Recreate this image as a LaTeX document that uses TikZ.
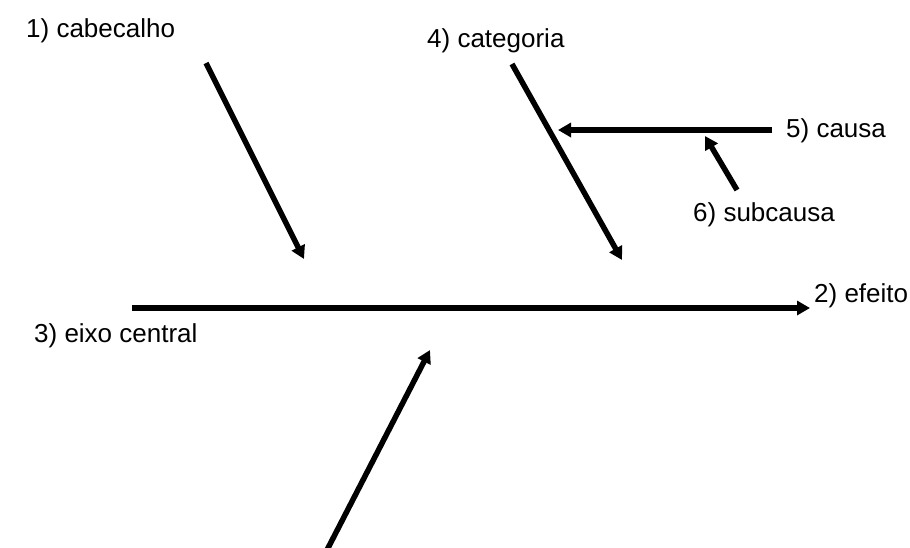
\documentclass[tikz,border=0pt]{standalone}
\usepackage{fontspec}
\setmainfont{Liberation Sans}
\usetikzlibrary{arrows.meta}
\begin{document}
\begin{tikzpicture}[x=1pt,y=-1pt,
  lbl/.style={inner sep=0pt,anchor=base west,font=\fontsize{26}{30}\selectfont},
  bone/.style={line width=5.5pt,-{Triangle[length=13pt,width=14pt]}}]
\useasboundingbox[fill=white] (0,0) rectangle (910,547);
% labels
\node[lbl] (l1) at (26,37) {1) cabecalho};
\node[lbl] (l4) at (427,47) {4) categoria};
\node[lbl] (l5) at (786,137) {5) causa};
\node[lbl] (l6) at (693,221) {6) subcausa};
\node[lbl] (l2) at (814,302) {2) efeito};
\node[lbl] (l3) at (34,342) {3) eixo central};
% coordinates
\coordinate (a1s) at (206,63);
\coordinate (a1e) at (304,259);
\coordinate (a4s) at (512,64);
\coordinate (a4e) at (622,260);
\coordinate (c5s) at (772,130);
\coordinate (c5e) at (558,130);
\coordinate (s6s) at (737,190);
\coordinate (s6e) at (705,136);
\coordinate (axs) at (132,308);
\coordinate (axe) at (810,308);
\coordinate (bs) at (327,550);
\coordinate (be) at (430,350);
% arrows
\draw[bone] (a1s) -- (a1e);
\draw[bone] (a4s) -- (a4e);
\draw[bone] (c5s) -- (c5e);
\draw[bone] (s6s) -- (s6e);
\draw[bone] (axs) -- (axe);
\draw[bone] (bs) -- (be);
\end{tikzpicture}
\end{document}
